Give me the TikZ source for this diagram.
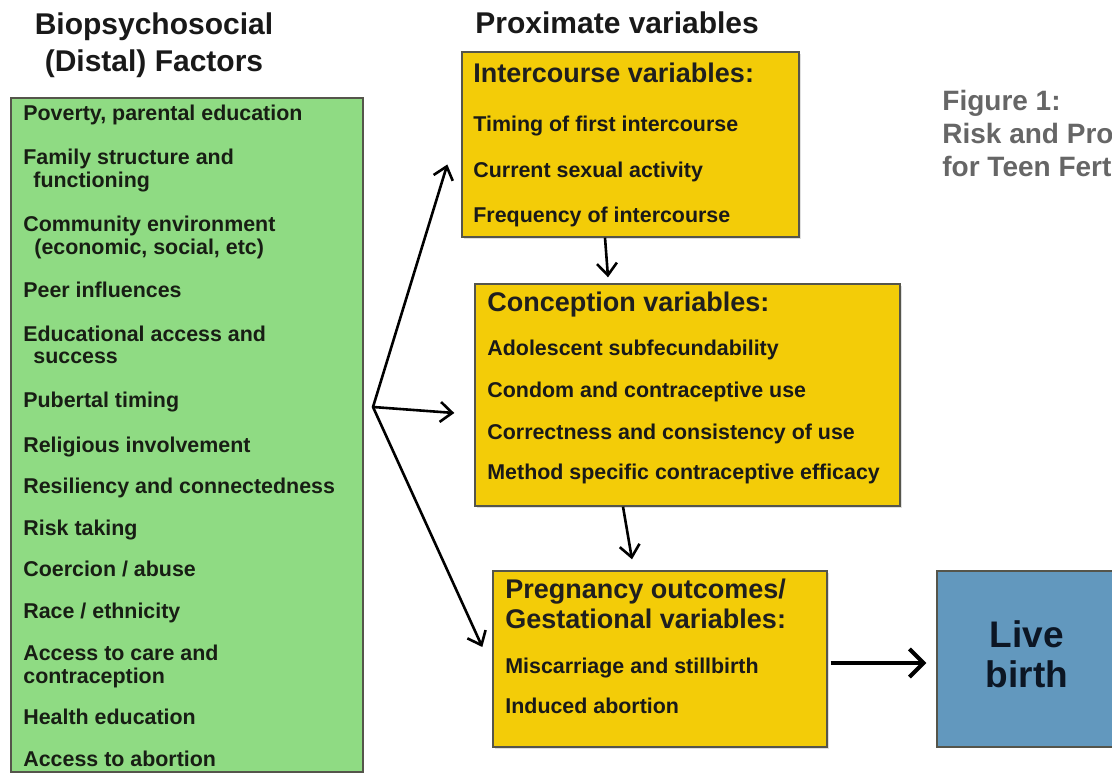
\documentclass[tikz,border=0pt]{standalone}
\usepackage{fontspec}
\setmainfont{Liberation Sans}
\usetikzlibrary{arrows.meta,fit,shadows}
\definecolor{distalgreen}{RGB}{143,219,131}
\definecolor{proxyellow}{RGB}{243,204,8}
\definecolor{birthblue}{RGB}{98,152,190}
\definecolor{figgray}{RGB}{102,102,102}
\definecolor{boxedge}{RGB}{85,85,75}
\definecolor{inkdark}{RGB}{24,30,20}
\definecolor{inknavy}{RGB}{12,22,36}

\tikzset{
	varbox/.style={draw=boxedge, line width=0.7pt, fill=proxyellow, inner sep=0pt,
		drop shadow={shadow xshift=1pt, shadow yshift=-1pt, opacity=0.25}},
	factorbox/.style={draw=boxedge, line width=0.7pt, fill=distalgreen, inner sep=0pt},
	birthbox/.style={draw=boxedge, line width=0.7pt, fill=birthblue, inner sep=0pt},
	coltitle/.style={anchor=base, inner sep=0pt, align=center, font=\bfseries\fontsize{15}{18.5}\selectfont, text=black!90},
	factor/.style={anchor=base west, inner sep=0pt, font=\bfseries\fontsize{10.7}{12}\selectfont, text=inkdark},
	varhead/.style={anchor=base west, inner sep=0pt, align=left, font=\bfseries\fontsize{13.5}{15}\selectfont, text=black!88},
	varline/.style={anchor=base west, inner sep=0pt, font=\bfseries\fontsize{10.7}{12}\selectfont, text=black!90},
	arr/.style={line width=1.3pt, -{Straight Barb[length=6pt,width=10pt]}},
	bigarr/.style={line width=2pt, -{Straight Barb[length=7pt,width=14pt]}}
}

\begin{document}
\begin{tikzpicture}[x=0.5pt, y=-0.5pt]
	%%%%% START %%%%%
	\useasboundingbox (0,0) rectangle (1112,774);

	% column titles (base = last line)
	\node[coltitle] (disttitle) at (154,72) {Biopsychosocial\\(Distal) Factors};
	\node[coltitle, anchor=base west] (proxtitle) at (475,34) {Proximate variables};

	% figure caption (runs off the page)
	\node[anchor=base west, inner sep=0pt, align=left, font=\bfseries\fontsize{14}{16.5}\selectfont, text=figgray] (figcap) at (942,177) {Figure 1:\\Risk and Pro\\for Teen Fert};

	% distal factors
	\node[factorbox, fit={(11,98) (363,772)}] (distal) {};
	\node[factor] (f1) at (23,121) {Poverty, parental education};
	\node[factor] (f2) at (23,165) {Family structure and};
	\node[factor] (f2b) at (33,188) {functioning};
	\node[factor] (f3) at (23,232) {Community environment};
	\node[factor] (f3b) at (34,255) {(economic, social, etc)};
	\node[factor] (f4) at (23,298) {Peer influences};
	\node[factor] (f5) at (23,342) {Educational access  and};
	\node[factor] (f5b) at (33,364) {success};
	\node[factor] (f6) at (23,408) {Pubertal timing};
	\node[factor] (f7) at (23,452) {Religious involvement};
	\node[factor] (f8) at (23,493) {Resiliency and connectedness};
	\node[factor] (f9) at (23,535) {Risk taking};
	\node[factor] (f10) at (23,576) {Coercion / abuse};
	\node[factor] (f11) at (23,618) {Race / ethnicity};
	\node[factor] (f12) at (23,660) {Access  to care and};
	\node[factor] (f12b) at (23,683) {contraception};
	\node[factor] (f13) at (23,724) {Health education};
	\node[factor] (f14) at (23,766) {Access  to abortion};

	% proximate variables
	\node[varbox, fit={(462,52) (799,237)}] (inter) {};
	\node[varhead] (interhead) at (473,83) {Intercourse variables:};
	\node[varline] (i1) at (473,132) {Timing of first intercourse};
	\node[varline] (i2) at (473,178) {Current sexual activity};
	\node[varline] (i3) at (473,223) {Frequency of intercourse};

	\node[varbox, fit={(475,284) (900,506)}] (concep) {};
	\node[varhead] (concephead) at (487,312) {Conception variables:};
	\node[varline] (c1) at (487,356) {Adolescent subfecundability};
	\node[varline] (c2) at (487,398) {Condom and contraceptive use};
	\node[varline] (c3) at (487,439) {Correctness and consistency of use};
	\node[varline] (c4) at (487,480) {Method specific contraceptive efficacy};

	\node[varbox, fit={(493,571) (827,747)}] (preg) {};
	\node[varhead] (preghead) at (505,628) {Pregnancy outcomes/\\Gestational variables:};
	\node[varline] (p1) at (505,673) {Miscarriage and stillbirth};
	\node[varline] (p2) at (505,713) {Induced abortion};

	% outcome
	\node[birthbox, fit={(937,571) (1150,747)}] (live) {};
	\node[anchor=base, inner sep=0pt, align=center, font=\bfseries\fontsize{18.5}{20}\selectfont, text=inknavy] (livetext) at (1027,687) {Live\\birth};

	% arrows
	\coordinate (hub) at (373,407);
	\draw[arr, line cap=round] (hub) -- ([xshift=-7pt,yshift=-10pt]inter.west);
	\draw[arr, line cap=round] (hub) -- ([xshift=-10pt,yshift=-9pt]concep.west);
	\draw[arr, line cap=round] (hub) -- ([xshift=-5pt,yshift=6pt]preg.west);
	\draw[arr] ([xshift=-12.75pt]inter.south) -- ([xshift=-39.75pt,yshift=3pt]concep.north);
	\draw[arr] ([xshift=-32.25pt]concep.south) -- ([xshift=-14pt,yshift=5.5pt]preg.north);
	\draw[bigarr] ([xshift=1.5pt,yshift=-2pt]preg.east) -- ([xshift=-5pt,yshift=-2pt]live.west);

	%%%%% END %%%%%
\end{tikzpicture}
\end{document}
